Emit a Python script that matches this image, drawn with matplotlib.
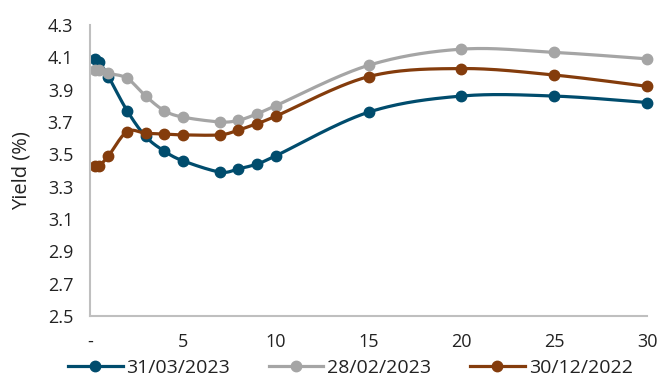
import numpy as np
import matplotlib
matplotlib.use("Agg")
import matplotlib.pyplot as plt
from matplotlib.lines import Line2D

plt.rcParams['font.family'] = ['Open Sans', 'DejaVu Sans']

maturities = [0.25, 0.5, 1, 2, 3, 4, 5, 7, 8, 9, 10, 15, 20, 25, 30]
yield_mar23 = [4.09, 4.07, 3.98, 3.77, 3.61, 3.52, 3.46, 3.39, 3.41, 3.44, 3.49, 3.76, 3.86, 3.86, 3.82]
yield_feb23 = [4.02, 4.02, 4.00, 3.97, 3.86, 3.77, 3.73, 3.70, 3.71, 3.75, 3.80, 4.05, 4.15, 4.13, 4.09]
yield_dec22 = [3.43, 3.43, 3.49, 3.64, 3.63, 3.625, 3.62, 3.62, 3.65, 3.69, 3.735, 3.98, 4.03, 3.99, 3.92]
series_labels = ["31/03/2023", "28/02/2023", "30/12/2022"]
series_colors = ["#004C6D", "#A5A5A5", "#843C0C"]
x_ticks = [0, 5, 10, 15, 20, 25, 30]
x_tick_labels = ["-", "5", "10", "15", "20", "25", "30"]
y_ticks = [2.5, 2.7, 2.9, 3.1, 3.3, 3.5, 3.7, 3.9, 4.1, 4.3]


def smooth(x, y, n=30):
    """Catmull-Rom smoothing through the points (Bezier with 1/6 handles)."""
    p = np.column_stack([x, y]).astype(float)
    pts = np.vstack([p[0], p, p[-1]])
    out = []
    t = np.linspace(0, 1, n)[:, None]
    for i in range(1, len(pts) - 2):
        p0, p1, p2, p3 = pts[i - 1], pts[i], pts[i + 1], pts[i + 2]
        c1 = p1 + (p2 - p0) / 6
        c2 = p2 - (p3 - p1) / 6
        seg = ((1 - t) ** 3) * p1 + 3 * ((1 - t) ** 2) * t * c1 + 3 * (1 - t) * t ** 2 * c2 + t ** 3 * p2
        out.append(seg if i == 1 else seg[1:])
    s = np.vstack(out)
    return s[:, 0], s[:, 1]


fig = plt.figure(figsize=(6.61, 3.83), dpi=100)
ax = fig.add_axes([0.136, 0.175, 0.843, 0.76])

handles = []
for vals, lab, col in zip([yield_mar23, yield_feb23, yield_dec22], series_labels, series_colors):
    sx, sy = smooth(maturities, vals)
    ax.plot(sx, sy, color=col, lw=2.3, solid_capstyle='round', clip_on=False)
    ax.plot(maturities, vals, 'o', color=col, ms=7.5, clip_on=False)
    handles.append(Line2D([], [], color=col, lw=2.3, marker='o', ms=7.5))

ax.set_xlim(0, 30)
ax.set_ylim(2.5, 4.3)
ax.set_xticks(x_ticks)
ax.set_xticklabels(x_tick_labels)
ax.set_yticks(y_ticks)
ax.set_yticklabels([f"{v:.1f}" for v in y_ticks])
ax.tick_params(length=0, labelsize=13, colors='#222222')
ax.tick_params(axis='y', pad=12)
ax.tick_params(axis='x', pad=12)
for side in ['top', 'right']:
    ax.spines[side].set_visible(False)
for side in ['left', 'bottom']:
    ax.spines[side].set_color('#BFBFBF')
    ax.spines[side].set_linewidth(1.5)
ax.set_ylabel("Yield (%)", fontsize=14.5, color='#222222')
ax.yaxis.set_label_coords(-0.104, 0.5)

fig.legend(handles, series_labels, loc='lower center', bbox_to_anchor=(0.53, -0.03),
           ncol=3, frameon=False, fontsize=14, handlelength=2.8, handletextpad=0.2,
           columnspacing=2.0, labelcolor='#222222')

fig.savefig("out.png", dpi=100)
